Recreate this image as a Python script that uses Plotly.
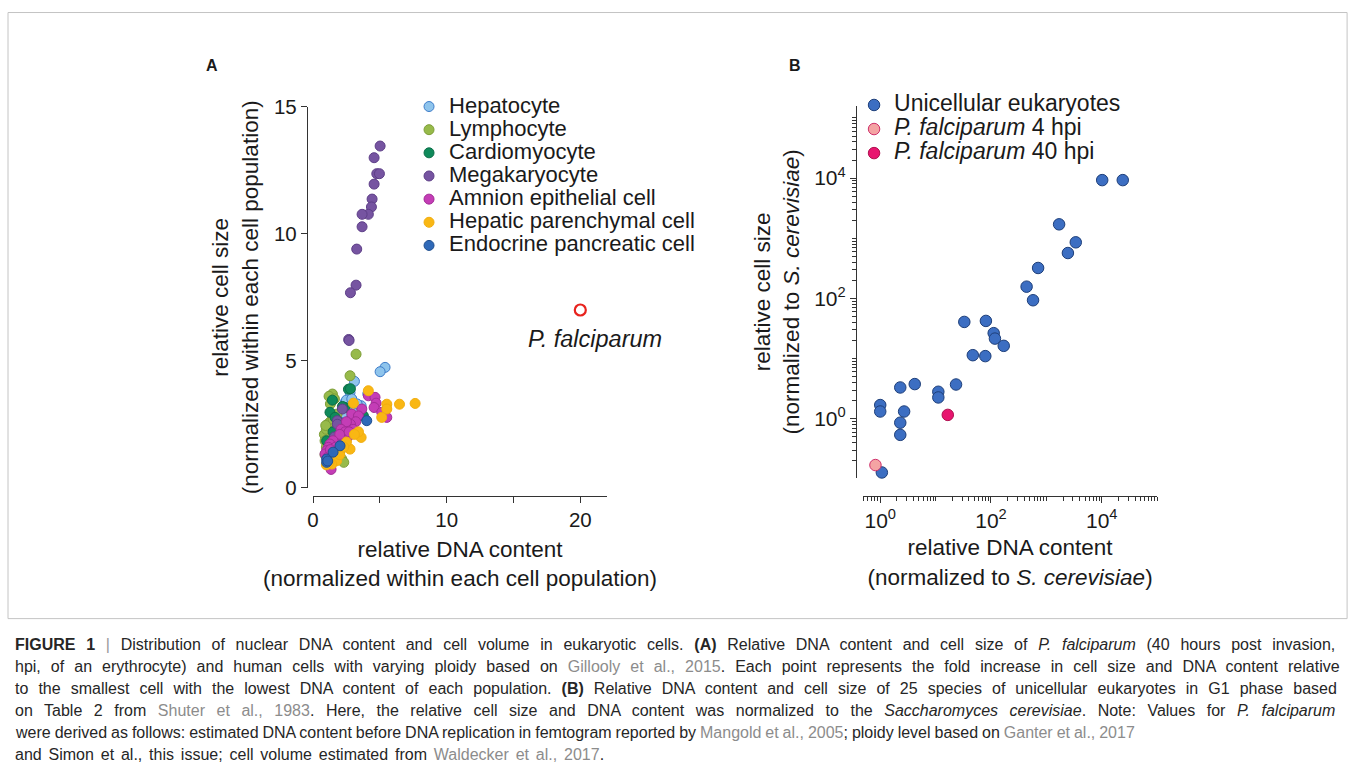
import plotly.graph_objects as go

W, H = 1355, 777
FONT = "Liberation Sans, Arial, sans-serif"
TXT = "#1a1a1a"

# ---------------- Panel A data ----------------
hep_x = [5.39, 5.02, 3.10, 2.77, 2.40, 4.10, 3.60, 3.00, 2.60, 2.20, 1.77, 1.52, 2.00, 1.30, 1.02, 3.30, 2.50, 1.80, 1.20, 2.90, 1.60]
hep_y = [4.74, 4.57, 4.19, 3.75, 3.36, 3.70, 3.23, 3.05, 3.00, 2.90, 2.57, 2.44, 2.60, 2.10, 1.98, 3.30, 3.45, 2.20, 1.60, 3.50, 1.90]

lym_x = [3.22, 2.77, 1.45, 1.20, 1.60, 1.30, 0.85, 0.90, 1.00, 1.10, 1.30, 1.50, 1.00, 1.20, 1.40, 2.15, 2.30, 0.90, 1.70, 1.10, 1.80, 2.00, 0.95, 1.25]
lym_y = [5.26, 4.41, 3.69, 3.60, 3.50, 3.30, 2.10, 1.85, 2.30, 2.50, 2.60, 2.70, 1.60, 1.40, 1.20, 1.13, 1.00, 1.30, 2.00, 1.10, 2.90, 1.40, 2.45, 1.95]

car_x = [2.65, 1.45, 1.27, 1.65, 2.40, 3.77, 1.85, 1.02, 2.80, 1.90, 2.20, 1.50]
car_y = [3.88, 3.45, 2.97, 2.77, 3.16, 2.83, 2.31, 1.85, 3.90, 2.60, 3.20, 2.20]

meg_x = [5.02, 4.57, 4.77, 4.97, 4.57, 4.42, 4.37, 4.14, 3.67, 3.67, 3.27, 3.22, 2.80, 2.67, 2.70, 2.20, 1.82, 1.82, 1.40, 1.60]
meg_y = [13.46, 13.00, 12.37, 12.37, 11.96, 11.37, 11.06, 10.77, 10.77, 10.28, 9.40, 7.98, 7.68, 5.84, 5.80, 3.10, 2.64, 2.50, 1.33, 2.00]

amn_x = [4.14, 4.64, 4.72, 4.57, 5.14, 5.52, 2.90, 3.65, 3.40, 3.20, 2.80, 2.50, 2.10, 2.40, 2.60, 2.20, 1.90, 2.00, 1.50, 1.27,
         1.15, 1.02, 0.90, 1.35, 1.70, 1.10, 3.00, 2.70, 1.30, 1.80]
amn_y = [3.62, 3.56, 3.33, 3.16, 2.97, 2.77, 2.90, 3.10, 2.83, 2.60, 2.50, 2.60, 2.30, 2.20, 2.00, 1.90, 1.80, 2.10, 1.85, 1.72,
         1.59, 1.46, 1.33, 0.72, 1.60, 1.20, 2.30, 2.20, 1.50, 1.40]

hpc_x = [4.14, 3.02, 5.52, 5.52, 6.47, 7.64, 5.14, 3.60, 2.77, 1.65, 1.77, 1.40, 3.40, 2.50, 2.00, 1.20, 3.10, 2.30, 1.00]
hpc_y = [3.82, 3.33, 3.29, 3.10, 3.29, 3.32, 2.77, 1.98, 1.52, 1.19, 1.06, 0.93, 2.20, 1.80, 1.30, 1.00, 2.10, 1.60, 0.90]

end_x = [4.02, 2.02, 1.02, 1.02, 1.10, 1.50]
end_y = [2.64, 1.65, 1.13, 1.00, 1.05, 1.40]

pf_x = [20.0]
pf_y = [7.0]

# ---------------- Panel B data ----------------
uni_x = [10200, 24000, 1700, 3400, 2450, 710, 440, 575, 33, 81, 112, 118, 170, 47, 79, 23.4, 4.2, 2.3, 11.2, 11.2, 1.0, 1.0, 2.7, 2.3, 2.3, 1.07]
uni_y = [9270, 9270, 1706, 857, 569, 321, 157, 93.3, 40.7, 42.3, 26.5, 21.5, 16.3, 11.4, 11.0, 3.71, 3.77, 3.31, 2.81, 2.26, 1.69, 1.32, 1.32, 0.86, 0.54, 0.128]
pf4_x, pf4_y = [0.82], [0.17]
pf40_x, pf40_y = [16.6], [1.16]

series_A = [
    ("Hepatocyte", hep_x, hep_y, "#8EC4EC", "#3D7CC9"),
    ("Lymphocyte", lym_x, lym_y, "#97BA4A", "#7E9E38"),
    ("Cardiomyocyte", car_x, car_y, "#0F8A5B", "#0B6E47"),
    ("Megakaryocyte", meg_x, meg_y, "#7654A1", "#5E3F88"),
    ("Amnion epithelial cell", amn_x, amn_y, "#C43DB6", "#A22C96"),
    ("Hepatic parenchymal cell", hpc_x, hpc_y, "#F9B714", "#F2AE10"),
    ("Endocrine pancreatic cell", end_x, end_y, "#2F69B8", "#1F4E8E"),
]

# placement helpers: target picture pixels -> paper fractions
SX, OX = 0.9955, 6.0
SY, OY = 0.971, 11.0


def px2x(p):
    return (p - OX) / SX / W


def py2y(p):
    return 1 - (p - OY) / SY / H


fig = go.Figure()

for name, xs, ys, fc, lc in series_A:
    fig.add_trace(go.Scatter(
        x=xs, y=ys, mode="markers", name='<span style="font-size:22px">%s</span>' % name,
        marker=dict(size=10, color=fc, line=dict(color=lc, width=1)),
        xaxis="x", yaxis="y", legend="legend", cliponaxis=False))

fig.add_trace(go.Scatter(
    x=pf_x, y=pf_y, mode="markers", showlegend=False,
    marker=dict(size=11, color="white", line=dict(color="#E8231E", width=2.2)),
    xaxis="x", yaxis="y", cliponaxis=False))

fig.add_trace(go.Scatter(
    x=uni_x, y=uni_y, mode="markers", name='<span style="font-size:23px">Unicellular eukaryotes</span>',
    marker=dict(size=11.5, color="#3C6EC2", line=dict(color="#1E3F7A", width=1)),
    xaxis="x2", yaxis="y2", legend="legend2", cliponaxis=False))
fig.add_trace(go.Scatter(
    x=pf4_x, y=pf4_y, mode="markers", name='<span style="font-size:23px"><i>P. falciparum</i> 4 hpi</span>',
    marker=dict(size=11.5, color="#F4A3A3", line=dict(color="#D0306A", width=1)),
    xaxis="x2", yaxis="y2", legend="legend2", cliponaxis=False))
fig.add_trace(go.Scatter(
    x=pf40_x, y=pf40_y, mode="markers", name='<span style="font-size:23px"><i>P. falciparum</i> 40 hpi</span>',
    marker=dict(size=11.5, color="#E8156F", line=dict(color="#B0104F", width=1)),
    xaxis="x2", yaxis="y2", legend="legend2", cliponaxis=False))

axis_common = dict(showline=True, linecolor="#333333", linewidth=1.3, ticks="outside",
                   tickcolor="#333333", tickwidth=1.3, ticklen=6, showgrid=False, zeroline=False)

tick_a = dict(size=20.5, family=FONT, color=TXT)
tick_b = dict(size=21, family=FONT, color=TXT)
title_font = dict(size=22.5, family=FONT, color=TXT)

minor_vals = [d * 10.0 ** k for k in range(-2, 6) for d in range(2, 10)]

fig.update_layout(
    width=W, height=H, margin=dict(l=0, r=0, t=0, b=0),
    paper_bgcolor="white", plot_bgcolor="white",
    font=dict(family=FONT, color=TXT),
    xaxis=dict(domain=[px2x(313), px2x(607)], range=[0, 22], anchor="free", position=py2y(495),
               tickvals=[0, 10, 20], tickfont=tick_a,
               minor=dict(tickvals=[5, 15], ticks="outside", ticklen=6, tickcolor="#333333",
                          tickwidth=1.3, showgrid=False),
               title=dict(text="relative DNA content<br>(normalized within each cell population)",
                          font=title_font, standoff=10),
               **axis_common),
    yaxis=dict(domain=[py2y(487), py2y(106)], range=[0, 15], anchor="free", position=px2x(307),
               tickvals=[0, 5, 10, 15], tickfont=tick_a,
               title=dict(text="relative cell size<br>(normalized within each cell population)",
                          font=title_font, standoff=8),
               **axis_common),
    xaxis2=dict(type="log", domain=[px2x(863), px2x(1157)], range=[-0.31, 5.0], anchor="free",
                position=py2y(495), tickfont=tick_b,
                tickvals=[1, 100, 10000], ticktext=["10<sup>0</sup>", "10<sup>2</sup>", "10<sup>4</sup>"],
                minor=dict(tickvals=minor_vals + [10, 1000, 100000], ticks="outside", ticklen=4,
                           tickcolor="#333333", tickwidth=1, showgrid=False),
                title=dict(text="relative DNA content<br>(normalized to <i>S. cerevisiae</i>)",
                           font=title_font, standoff=8),
                **axis_common),
    yaxis2=dict(type="log", domain=[py2y(477), py2y(105)], range=[-0.98, 5.2], anchor="free",
                position=px2x(856), tickfont=tick_b,
                tickvals=[1, 100, 10000], ticktext=["10<sup>0</sup>", "10<sup>2</sup>", "10<sup>4</sup>"],
                minor=dict(tickvals=minor_vals + [0.1, 10, 1000, 100000], ticks="outside", ticklen=4,
                           tickcolor="#333333", tickwidth=1, showgrid=False),
                title=dict(text="relative cell size<br>(normalized to <i>S. cerevisiae</i>)",
                           font=title_font, standoff=7),
                **axis_common),
    legend=dict(x=px2x(409), y=py2y(89), xanchor="left", yanchor="top",
                font=dict(size=15.5, family=FONT, color=TXT), bgcolor="rgba(0,0,0,0)",
                tracegroupgap=0, itemsizing="trace"),
    legend2=dict(x=px2x(854), y=py2y(87), xanchor="left", yanchor="top",
                 font=dict(size=16.2, family=FONT, color=TXT), bgcolor="rgba(0,0,0,0)",
                 tracegroupgap=0, itemsizing="trace"),
    showlegend=True,
)

# frame
fig.add_shape(type="rect", xref="paper", yref="paper", x0=px2x(8), x1=px2x(1347),
              y0=py2y(618), y1=0.9993, line=dict(color="#C4C4C4", width=1), layer="below")

annos = [
    dict(text="<b>A</b>", x=px2x(212), y=py2y(65), size=16),
    dict(text="<b>B</b>", x=px2x(795), y=py2y(65), size=16),
    dict(text="<i>P. falciparum</i>", x=px2x(595), y=py2y(338), size=23.5),
]
for a in annos:
    fig.add_annotation(xref="paper", yref="paper", showarrow=False, xanchor="center", yanchor="middle",
                       font=dict(family=FONT, color=TXT, size=a["size"]), text=a["text"], x=a["x"], y=a["y"])

G = '<span style="color:#8C8C8C">%s</span>'
caption_lines = [
    "<b>FIGURE 1</b> <span style='color:#9a9a9a'>|</span> Distribution of nuclear DNA content and cell volume in eukaryotic cells. <b>(A)</b> Relative DNA content and cell size of <i>P. falciparum</i> (40 hours post invasion,",
    "hpi, of an erythrocyte) and human cells with varying ploidy based on " + G % "Gillooly et al., 2015" + ". Each point represents the fold increase in cell size and DNA content relative",
    "to the smallest cell with the lowest DNA content of each population. <b>(B)</b> Relative DNA content and cell size of 25 species of unicellular eukaryotes in G1 phase based",
    "on Table 2 from " + G % "Shuter et al., 1983" + ". Here, the relative cell size and DNA content was normalized to the <i>Saccharomyces cerevisiae</i>. Note: Values for <i>P. falciparum</i>",
    "were derived as follows: estimated DNA content before DNA replication in femtogram reported by " + G % "Mangold et al., 2005" + "; ploidy level based on " + G % "Ganter et al., 2017",
    "and Simon et al., this issue; cell volume estimated from " + G % "Waldecker et al., 2017" + ".",
]
caption_y = [644, 666, 688, 710, 732, 754]
word_space = [6.3, 5.6, 5.6, 7.1, -0.5, 2.4]
for t, yc, ws in zip(caption_lines, caption_y, word_space):
    fig.add_annotation(xref="paper", yref="paper", showarrow=False, xanchor="left", yanchor="middle",
                       x=px2x(13), y=py2y(yc), text='<span style="word-spacing:%.1fpx">%s</span>' % (ws, t),
                       align="left", font=dict(family=FONT, size=16, color="#262626"))

fig.write_html("out.html", config={"displayModeBar": False},
               post_script="document.body.style.margin='0';document.body.style.padding='0';"
                           "document.documentElement.style.overflow='hidden';")
